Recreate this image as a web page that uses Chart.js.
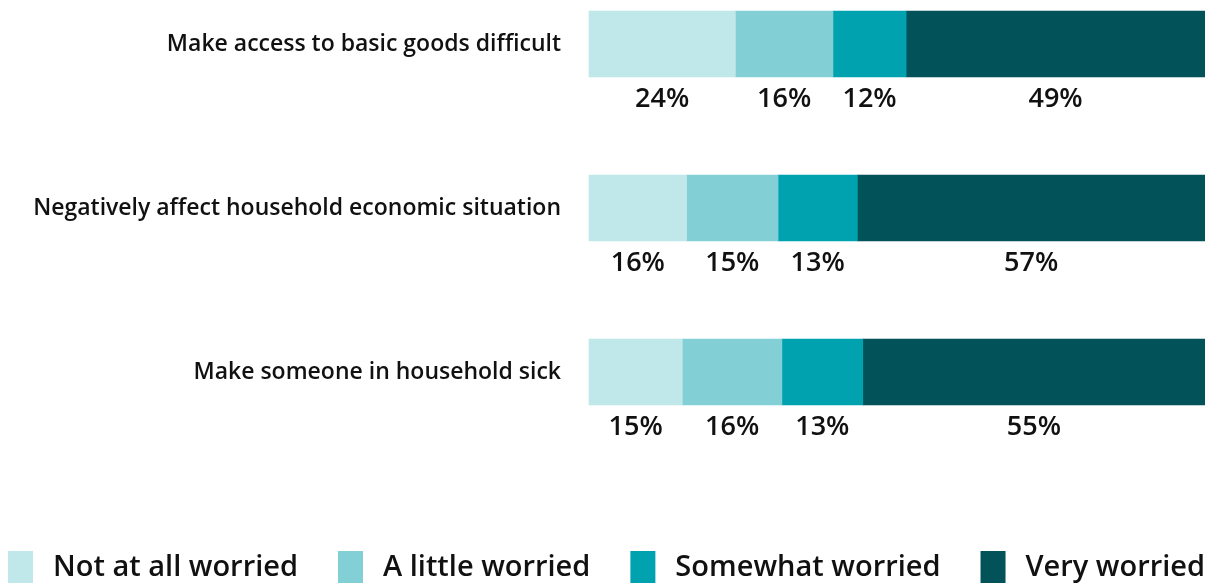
<!DOCTYPE html>
<html>
<head>
<meta charset="utf-8">
<script src="https://cdn.jsdelivr.net/npm/chart.js@4/dist/chart.umd.min.js"></script>
<style>
  html, body { margin: 0; padding: 0; background: #fff; overflow: hidden; }
  #wrap { width: 1205px; height: 600px; position: relative; }
</style>
</head>
<body>
<div id="wrap"><canvas id="chart" width="1205" height="600"></canvas></div>
<script>
const categories = [
  "Make access to basic goods difficult",
  "Negatively affect household economic situation",
  "Make someone in household sick",
];
const seriesNames = ["Not at all worried", "A little worried", "Somewhat worried", "Very worried"];
const notAtAll = [24, 16, 15];
const aLittle = [16, 15, 16];
const somewhat = [12, 13, 13];
const very = [49, 57, 55];
const colors = ["#c0e7e9", "#82d0d6", "#00a2b0", "#02525a"];

const raw = [notAtAll, aLittle, somewhat, very];
// each row is drawn as a 100% stacked bar
const rowTotals = categories.map((_, i) => raw.reduce((s, arr) => s + arr[i], 0));

const FONT = "'Open Sans', 'Noto Sans', sans-serif";

const valueLabels = {
  id: "valueLabels",
  afterDatasetsDraw(chart) {
    const { ctx } = chart;
    ctx.save();
    ctx.font = `600 27px ${FONT}`;
    ctx.fillStyle = "#111";
    ctx.textAlign = "center";
    ctx.textBaseline = "middle";
    chart.data.datasets.forEach((ds, di) => {
      const meta = chart.getDatasetMeta(di);
      meta.data.forEach((el, i) => {
        const cx = (el.x + el.base) / 2;
        ctx.fillText(ds.raw[i] + "%", cx, el.y + 55);
      });
    });
    ctx.restore();
  },
};

const bottomLegend = {
  id: "bottomLegend",
  afterDraw(chart) {
    const { ctx } = chart;
    ctx.save();
    ctx.font = `600 29px ${FONT}`;
    ctx.textBaseline = "middle";
    ctx.textAlign = "left";
    let x = 8;
    chart.data.datasets.forEach((ds) => {
      ctx.fillStyle = ds.backgroundColor;
      ctx.fillRect(x, 551, 25, 40);
      ctx.fillStyle = "#111";
      ctx.fillText(ds.label, x + 45, 568);
      x += 45 + ctx.measureText(ds.label).width + 40;
    });
    ctx.restore();
  },
};

new Chart(document.getElementById("chart"), {
  type: "bar",
  data: {
    labels: categories,
    datasets: raw.map((arr, k) => ({
      label: seriesNames[k],
      raw: arr,
      data: arr.map((v, i) => (v / rowTotals[i]) * 100),
      backgroundColor: colors[k],
      borderWidth: 0,
      barThickness: 66,
      clip: false,
    })),
  },
  options: {
    indexAxis: "y",
    responsive: false,
    animation: false,
    layout: { padding: { top: 44, right: 0, bottom: 228, left: 0 } },
    plugins: {
      legend: { display: false },
      tooltip: { enabled: false },
    },
    scales: {
      x: {
        stacked: true,
        min: 0,
        max: 100,
        display: false,
      },
      y: {
        stacked: true,
        offset: false,
        grid: { display: false, drawTicks: false },
        border: { display: false },
        afterFit(scale) {
          scale.width = 589;
        },
        ticks: {
          padding: 28,
          color: "#111",
          font: { family: FONT, size: 23, weight: "600" },
        },
      },
    },
  },
  plugins: [valueLabels, bottomLegend],
});
</script>
</body>
</html>
